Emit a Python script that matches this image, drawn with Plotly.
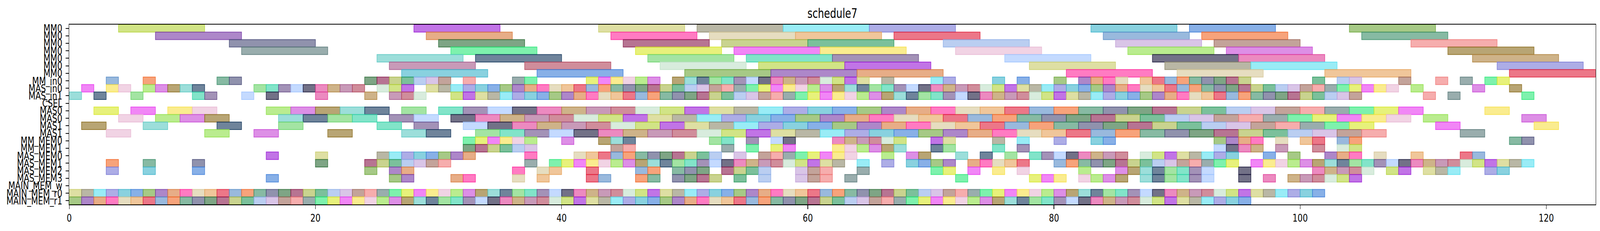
import plotly.graph_objects as go

# bar start times per resource row
mm0_0 = [4, 28, 43, 51, 58, 65, 83, 91, 104]
mm0_1 = [7, 29, 44, 52, 59, 67, 84, 92, 105]
mm0_2 = [13, 30, 45, 53, 60, 71, 85, 93, 109]
mm0_3 = [14, 31, 46, 54, 61, 72, 86, 94, 112]
mm0_4 = [25, 33, 47, 55, 62, 76, 88, 95, 114]
mm0_5 = [26, 37, 48, 56, 63, 78, 89, 96, 116]
mm0_6 = [27, 38, 50, 57, 64, 81, 90, 102, 117]

mm_in0 = [3, 6, 12, 13, 24, 25, 26, 27, 28, 29, 30, 32, 36, 37, 42, 43, 44, 45,
          46, 47, 49, 50, 51, 52, 53, 54, 55, 56, 57, 58, 59, 60, 61, 62, 63, 64,
          66, 70, 71, 75, 77, 80, 82, 83, 84, 85, 87, 88, 89, 90, 91, 92, 93, 94,
          95, 101, 103, 104, 108, 111, 113, 115, 116]
mas_in0 = [1, 3, 4, 6, 7, 8, 9, 10, 15, 16, 17, 18, 19, 20, 21, 22, 23, 25, 26,
           27, 29, 30, 31, 32, 33, 34, 35, 36, 37, 38, 39, 40, 41, 42, 43, 44, 45,
           46, 47, 48, 49, 50, 51, 52, 53, 54, 55, 56, 57, 58, 59, 60, 61, 62, 63,
           64, 65, 66, 67, 68, 69, 70, 71, 72, 73, 74, 75, 76, 77, 78, 79, 80, 81,
           82, 83, 84, 85, 86, 87, 88, 89, 90, 91, 92, 93, 94, 95, 96, 97, 98, 99,
           100, 101, 102, 103, 104, 105, 106, 107, 109, 114, 117]
mas_in1 = [0, 2, 5, 10, 11, 14, 16, 20, 24, 26, 27, 28, 31, 32, 33, 34, 35, 36,
           37, 38, 39, 40, 41, 42, 43, 44, 45, 46, 47, 48, 49, 50, 51, 52, 53, 54,
           55, 56, 57, 58, 59, 60, 61, 62, 63, 64, 65, 66, 67, 68, 69, 70, 71, 72,
           73, 74, 75, 76, 77, 78, 79, 80, 81, 82, 83, 84, 85, 86, 87, 88, 89, 90,
           91, 92, 93, 94, 95, 96, 97, 98, 99, 100, 101, 102, 103, 104, 110, 112,
           118]
csel = []
mas0_a = [2, 5, 8, 10, 16, 18, 20, 22, 24, 27, 30, 32, 34, 36, 38, 40, 42, 44,
          46, 48, 50, 52, 54, 56, 58, 60, 62, 64, 66, 68, 70, 72, 74, 76, 78, 80,
          82, 84, 86, 88, 90, 92, 94, 96, 98, 100, 102, 104, 106, 108, 115]
mas0_b = [4, 7, 9, 11, 17, 19, 21, 23, 26, 28, 31, 33, 35, 37, 39, 41, 43, 45,
          47, 49, 51, 53, 55, 57, 59, 61, 63, 65, 67, 69, 71, 73, 75, 77, 79, 81,
          83, 85, 87, 89, 91, 93, 95, 97, 99, 101, 103, 105, 107, 110, 118]
mas1_a = [1, 6, 12, 17, 25, 28, 32, 34, 36, 38, 40, 42, 44, 46, 48, 50, 52, 54,
          56, 58, 60, 62, 64, 66, 68, 70, 72, 74, 76, 78, 80, 82, 84, 86, 88, 90,
          92, 94, 96, 98, 100, 102, 104, 111, 119]
mas1_b = [3, 11, 15, 21, 27, 29, 33, 35, 37, 39, 41, 43, 45, 47, 49, 51, 53, 55,
          57, 59, 61, 63, 65, 67, 69, 71, 73, 75, 77, 79, 81, 83, 85, 87, 89, 91,
          93, 95, 97, 99, 101, 103, 105, 113]
mm_mem0 = [32, 33, 34, 35, 36, 37, 40, 43, 44, 45, 52, 53, 55, 57, 58, 62, 63,
           64, 65, 66, 67, 70, 71, 75, 77, 80, 83, 84, 93, 94, 95, 96, 98, 100,
           101, 103, 104, 117, 118]
mm_mem1 = [32, 33, 34, 35, 36, 37, 44, 45, 53, 55, 57, 58, 62, 63, 64, 65, 66,
           67, 70, 71, 75, 77, 93, 94, 95, 96, 98, 101, 103, 104]
mas_mem0 = [16, 20, 25, 26, 27, 28, 29, 30, 31, 32, 37, 41, 42, 43, 44, 45, 46,
            47, 48, 49, 50, 51, 52, 54, 56, 57, 58, 59, 60, 61, 62, 63, 66, 68,
            69, 72, 74, 76, 78, 79, 80, 81, 82, 83, 84, 85, 87, 88, 89, 90, 91,
            92, 93, 94, 97, 99, 102, 103, 104, 106, 109, 113, 114]
mas_mem1 = [3, 6, 10, 20, 24, 25, 26, 27, 28, 29, 30, 37, 39, 40, 41, 42, 43, 44,
            45, 46, 47, 48, 49, 50, 51, 52, 53, 54, 55, 56, 57, 58, 59, 60, 61,
            62, 64, 66, 68, 69, 70, 71, 73, 74, 75, 76, 77, 80, 81, 82, 83, 84,
            85, 86, 87, 88, 89, 90, 91, 92, 93, 94, 96, 97, 98, 99, 100, 101, 102,
            103, 104, 105, 106, 107, 108, 109, 110, 111, 112, 113, 114, 115, 116,
            117, 118]
mas_mem2 = [3, 6, 10, 24, 26, 27, 36, 38, 39, 42, 46, 47, 49, 50, 51, 53, 54, 55,
            56, 59, 60, 61, 64, 70, 71, 73, 75, 77, 82, 85, 86, 87, 88, 89, 90,
            91, 92, 95, 101, 102, 103, 104, 105, 107, 108, 110, 111, 112, 115, 116]
mas_mem3 = [16, 26, 27, 31, 32, 36, 38, 42, 43, 46, 47, 49, 50, 51, 52, 54, 56,
            59, 60, 61, 63, 72, 78, 79, 80, 82, 83, 84, 85, 87, 88, 89, 90, 91,
            92, 95, 97, 99, 100, 101, 102, 103, 104]
main_mem_w = []
main_mem_r0 = [0, 1, 2, 3, 4, 5, 6, 7, 8, 9, 10, 11, 12, 13, 14, 15, 16, 17, 18,
               19, 20, 21, 22, 23, 24, 25, 26, 27, 28, 29, 30, 31, 32, 33, 34, 35,
               36, 37, 38, 39, 40, 41, 42, 43, 44, 45, 46, 47, 48, 49, 50, 51, 52,
               53, 54, 55, 56, 57, 58, 59, 60, 61, 62, 63, 64, 65, 66, 67, 68, 69,
               70, 71, 72, 73, 74, 75, 76, 77, 78, 79, 80, 81, 82, 83, 84, 85, 86,
               87, 88, 89, 90, 91, 92, 93, 94, 95, 96, 97, 98, 99, 100, 101]
main_mem_r1 = [0, 1, 2, 3, 4, 5, 6, 7, 8, 9, 10, 11, 12, 13, 14, 15, 16, 17, 18,
               19, 20, 21, 22, 23, 24, 25, 26, 27, 28, 29, 30, 31, 32, 33, 34, 35,
               36, 37, 38, 39, 40, 41, 42, 43, 44, 45, 46, 47, 48, 49, 50, 51, 52,
               53, 54, 55, 56, 57, 58, 59, 60, 61, 62, 63, 64, 65, 66, 67, 68, 69,
               70, 71, 72, 73, 74, 75, 76, 77, 78, 79, 80, 81, 82, 83, 84, 85, 86,
               87, 88, 89, 90, 91, 92, 93, 94, 95]

# task lengths per kind of resource
mm_len = 7
port_len = 1
mas_len = 2
mem_len = 1

row_labels = ["MM0", "MM0", "MM0", "MM0", "MM0", "MM0", "MM0",
              "MM_in0", "MAS_in0", "MAS_in1", "CSEL",
              "MAS0", "MAS0", "MAS1", "MAS1",
              "MM_MEM0", "MM_MEM1", "MAS_MEM0", "MAS_MEM1", "MAS_MEM2", "MAS_MEM3",
              "MAIN_MEM_w", "MAIN_MEM_r0", "MAIN_MEM_r1"]

rows = [
    (mm0_0, mm_len), (mm0_1, mm_len), (mm0_2, mm_len), (mm0_3, mm_len),
    (mm0_4, mm_len), (mm0_5, mm_len), (mm0_6, mm_len),
    (mm_in0, port_len), (mas_in0, port_len), (mas_in1, port_len), (csel, port_len),
    (mas0_a, mas_len), (mas0_b, mas_len), (mas1_a, mas_len), (mas1_b, mas_len),
    (mm_mem0, mem_len), (mm_mem1, mem_len), (mas_mem0, mem_len), (mas_mem1, mem_len),
    (mas_mem2, mem_len), (mas_mem3, mem_len),
    (main_mem_w, mem_len), (main_mem_r0, mem_len), (main_mem_r1, mem_len),
]

# every task gets its own colour, like the original script's random colours
palette = [
    "#b5d33c", "#3f7fd9", "#e0243f", "#a8b84a", "#2ee87a", "#8c6d1f", "#1c1a3d",
    "#9b1fd6", "#6fa83c", "#5b8ec8", "#2a9a5e", "#d8e82a", "#5fc9c3", "#e0429a",
    "#c9cc6b", "#7a3ea8", "#f26a2a", "#8fb0e8", "#e83cf0", "#16395e", "#b08440",
    "#8e8a6e", "#d97a3d", "#3d8f6b", "#c2a1d9", "#f7e14a", "#6bd46b", "#a65c8c",
    "#5ae0f0", "#ff2a9d", "#4c4f7a", "#9e6b5c", "#e8b8d3", "#35d4a8", "#b3475e",
    "#7b7bd6", "#d6c89a", "#2f6e3a", "#f07a7a", "#90e04a", "#6a4f8a", "#c0e0c8",
    "#41b5cc", "#e6a35c", "#8a1f4f", "#5a7a7a", "#c84ad6", "#a0c4ff",
]


def rgba(hex_color, alpha):
    h = hex_color.lstrip("#")
    r, g, b = int(h[0:2], 16), int(h[2:4], 16), int(h[4:6], 16)
    return f"rgba({r},{g},{b},{alpha})"


fig = go.Figure()
counter = 0
for i, (starts, dur) in enumerate(rows):
    if not starts:
        continue
    fills, edges = [], []
    for _ in starts:
        c = palette[(counter * 7) % len(palette)]
        fills.append(rgba(c, 0.62))
        edges.append(rgba(c, 0.85))
        counter += 1
    fig.add_trace(go.Bar(
        orientation="h",
        y=[i] * len(starts),
        x=[dur] * len(starts),
        base=starts,
        width=1,
        marker=dict(color=fills, line=dict(color=edges, width=2)),
        showlegend=False,
        hoverinfo="skip",
    ))

axis_font = dict(family="DejaVu Sans", size=27, color="black")

fig.update_layout(
    width=5407, height=592,
    margin=dict(l=234, r=15, t=63, b=68),
    paper_bgcolor="white", plot_bgcolor="white",
    barmode="overlay",
    title=dict(text="schedule7", x=(234 + 5392) / 2 / 5407, xanchor="center",
               y=1 - 34 / 592, yanchor="middle",
               font=dict(family="DejaVu Sans", size=33, color="black")),
    xaxis=dict(range=[0, 124], tickvals=[0, 20, 40, 60, 80, 100, 120],
               showgrid=False, zeroline=False, showline=True, mirror=True,
               linecolor="black", linewidth=2.2, ticks="outside", ticklen=10,
               tickwidth=2, tickcolor="black", tickfont=axis_font),
    yaxis=dict(range=[23.5, -0.5], tickvals=list(range(len(row_labels))),
               ticktext=row_labels, showgrid=False, zeroline=False, showline=True,
               mirror=True, linecolor="black", linewidth=2.2, ticks="outside",
               ticklen=10, tickwidth=2, tickcolor="black", tickfont=axis_font,
               ticklabelstandoff=6),
)

# the browser's CSS viewport need not be 5407x592 (device pixel ratio);
# stretch the 5407x592 graph so that it fills the whole window
fit_script = """
var gd = document.getElementById('{plot_id}');
var root = document.documentElement;
root.style.margin = '0';
root.style.overflow = 'hidden';
document.body.style.margin = '0';
document.body.style.overflow = 'hidden';
var W = window.innerWidth, H = window.innerHeight;
var sx = W / 5407, sy = H / 592;
if (Math.abs(sx - 1) > 0.001 || Math.abs(sy - 1) > 0.001) {
    gd.style.transformOrigin = '0 0';
    gd.style.transform = 'scale(' + sx + ',' + sy + ')';
    var box = gd.parentElement;
    box.style.width = W + 'px';
    box.style.height = H + 'px';
    box.style.overflow = 'hidden';
    document.body.style.height = H + 'px';
    root.style.height = H + 'px';
}
"""

fig.write_html("out.html", post_script=fit_script,
               config={"displayModeBar": False})
